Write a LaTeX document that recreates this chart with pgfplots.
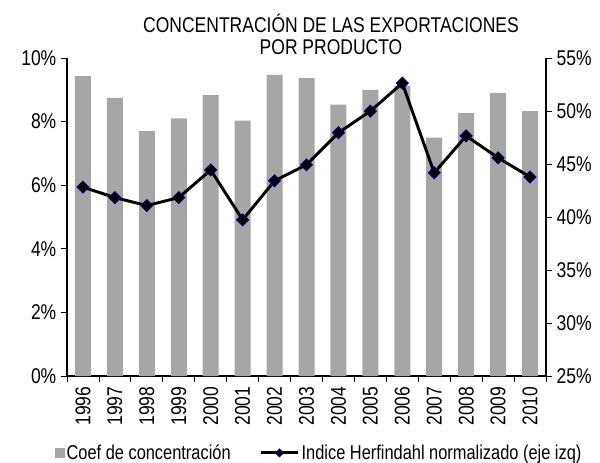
\documentclass[border=0pt]{standalone}
\usepackage{fontspec}
\setmainfont[FakeStretch=0.82]{Liberation Sans}
\usepackage{pgfplots}
\pgfplotsset{compat=1.18}
\definecolor{bargray}{HTML}{A6A6A6}
\definecolor{mk}{HTML}{00007F}
\begin{document}
\begin{tikzpicture}[font=\fontsize{16}{18}\selectfont]
\pgfplotsset{
  common/.style={
    scale only axis, width=359.25pt, height=238.5pt,
    xmin=-0.5, xmax=14.5,
    tick align=outside,
    axis line style={black, line width=0.8pt},
    tick style={black, line width=0.6pt},
    major tick length=4.5pt,
    /pgf/number format/assume math mode=true,
  }
}
\begin{axis}[common,
  ymin=25, ymax=55,
  axis y line*=right, axis x line*=bottom,
  ytick={25,30,...,55},
  yticklabel={\pgfmathprintnumber{\tick}\%},
  xtick={0,...,14},
  xticklabels={1996,1997,1998,1999,2000,2001,2002,2003,2004,2005,2006,2007,2008,2009,2010},
  xticklabel style={rotate=90, anchor=east},
  minor xtick={-0.5,0.5,...,14.5},
  major x tick style={draw=none},
  minor tick length=4.5pt,
  minor x tick style={black, line width=0.6pt},
  ybar, bar width=12pt,
]
\addplot[fill=bargray, draw=none] coordinates {
(0,53.3) (1,51.25) (2,48.1) (3,49.3) (4,51.5) (5,49.1) (6,53.4) (7,53.1)
(8,50.6) (9,52.0) (10,52.4) (11,47.5) (12,49.8) (13,51.7) (14,50.0)};
\end{axis}
\begin{axis}[common,
  ymin=0, ymax=10,
  axis y line*=left, axis x line=none,
  ytick={0,2,...,10},
  yticklabel={\pgfmathprintnumber{\tick}\%},
  legend columns=2,
  legend style={draw=none, fill=none, at={(0.527,-0.242)}, anchor=center,
    font=\fontsize{15}{17}\selectfont,
    nodes={inner sep=1.5pt},
    /tikz/every even column/.append style={column sep=20pt}},
]
\addlegendimage{legend image code/.code={\fill[bargray] (0pt,-3.4pt) rectangle (6.5pt,3.4pt);}}
\addlegendentry{Coef de concentración}
\addplot[black, line width=2.2pt, mark=square*, mark size=3.2pt,
  mark options={rotate=45, fill=black, draw=mk, line width=0.6pt},
  legend image code/.code={
    \draw[black, line width=2.2pt] (0pt,0pt) -- (28pt,0pt);
    \draw[fill=black, draw=mk, line width=0.6pt, rotate around={45:(14pt,0pt)}] (11.9pt,-2.1pt) rectangle (16.1pt,2.1pt);}
  ] coordinates {
(0,5.94) (1,5.61) (2,5.36) (3,5.61) (4,6.48) (5,4.91) (6,6.14) (7,6.64)
(8,7.65) (9,8.33) (10,9.21) (11,6.39) (12,7.55) (13,6.86) (14,6.26)};
\addlegendentry{Indice Herfindahl normalizado (eje izq)}
\end{axis}
\node[align=center, font=\fontsize{16}{16.5}\selectfont] at (198pt,256pt) {CONCENTRACIÓN DE LAS EXPORTACIONES\\POR PRODUCTO};
\pgfresetboundingbox
\path[use as bounding box] (-50.25pt,-64.5pt) rectangle (399.75pt,282pt);
\end{tikzpicture}
\end{document}
